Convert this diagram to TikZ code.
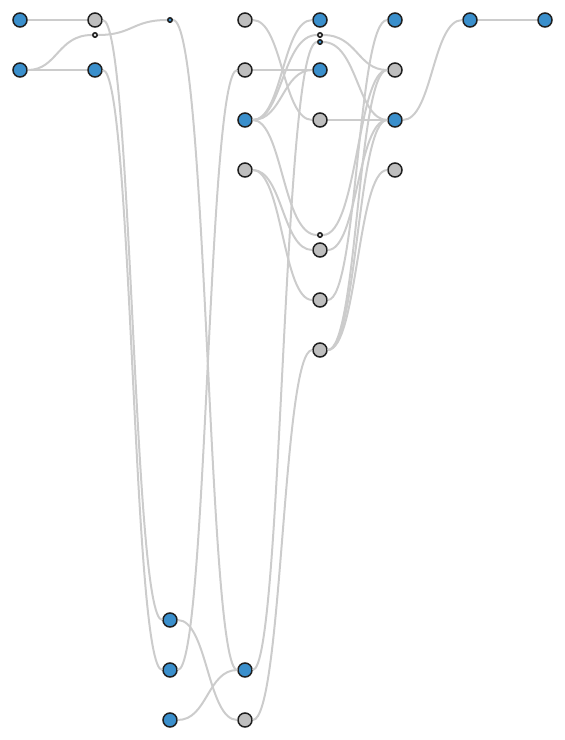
\documentclass[tikz,border=0pt]{standalone}
\definecolor{dotblue}{HTML}{3A8FCC}
\definecolor{dotgray}{HTML}{BEBEBE}
\definecolor{linkgray}{HTML}{CCCCCC}
\begin{document}
\begin{tikzpicture}[x=1pt, y=-1pt,
        blue node/.style={circle, draw=black!88, line width=1.5pt, fill=dotblue, minimum size=14pt, inner sep=0pt},
        gray node/.style={blue node, fill=dotgray},
        blue dot/.style={blue node, minimum size=4.5pt},
        gray dot/.style={blue dot, fill=dotgray!55},
        link/.style={draw=linkgray, line width=2pt, to path={.. controls +(37.5, 0) and +(-37.5, 0) .. (\tikztotarget)}}]
        \useasboundingbox (0, 0) rectangle (565, 740);
        \node[blue node] (a0) at (20, 20) {};
        \node[blue node] (a1) at (20, 70) {};
        \node[gray node] (b0) at (95, 20) {};
        \node[gray dot] (bx) at (95, 35) {};
        \node[blue node] (b1) at (95, 70) {};
        \node[blue dot] (cx) at (170, 20) {};
        \node[blue node] (c0) at (170, 620) {};
        \node[blue node] (c1) at (170, 670) {};
        \node[blue node] (c2) at (170, 720) {};
        \node[gray node] (d0) at (245, 20) {};
        \node[gray node] (d1) at (245, 70) {};
        \node[blue node] (d2) at (245, 120) {};
        \node[gray node] (d3) at (245, 170) {};
        \node[blue node] (d4) at (245, 670) {};
        \node[gray node] (d5) at (245, 720) {};
        \node[blue node] (e0) at (320, 20) {};
        \node[gray dot] (ea) at (320, 35) {};
        \node[blue dot] (eb) at (320, 42) {};
        \node[blue node] (e1) at (320, 70) {};
        \node[gray node] (e2) at (320, 120) {};
        \node[gray dot] (ec) at (320, 235) {};
        \node[gray node] (e3) at (320, 250) {};
        \node[gray node] (e4) at (320, 300) {};
        \node[gray node] (e5) at (320, 350) {};
        \node[blue node] (f0) at (395, 20) {};
        \node[gray node] (f1) at (395, 70) {};
        \node[blue node] (f2) at (395, 120) {};
        \node[gray node] (f3) at (395, 170) {};
        \node[blue node] (g0) at (470, 20) {};
        \node[blue node] (h0) at (545, 20) {};
        \draw[link] (a0) to (b0);
        \draw[link] (a1) to (b1);
        \draw[link] (a1) to (bx);
        \draw[link] (bx) to (cx);
        \draw[link] (b0) to (c0);
        \draw[link] (b1) to (c1);
        \draw[link] (cx) to (d4);
        \draw[link] (c1) to (d1);
        \draw[link] (c0) to (d5);
        \draw[link] (c2) to (d4);
        \draw[link] (d0) to (e2);
        \draw[link] (d1) to (e1);
        \draw[link] (d2) to (e0);
        \draw[link] (d2) to (ea);
        \draw[link] (d2) to (e1);
        \draw[link] (d2) to (ec);
        \draw[link] (d3) to (e3);
        \draw[link] (d3) to (e4);
        \draw[link] (d4) to (eb);
        \draw[link] (d5) to (e5);
        \draw[link] (ea) to (f1);
        \draw[link] (eb) to (f2);
        \draw[link] (e2) to (f2);
        \draw[link] (ec) to (f1);
        \draw[link] (e3) to (f2);
        \draw[link] (e4) to (f0);
        \draw[link] (e5) to (f1);
        \draw[link] (e5) to (f2);
        \draw[link] (e5) to (f3);
        \draw[link] (f2) to (g0);
        \draw[link] (g0) to (h0);
\end{tikzpicture}
\end{document}
